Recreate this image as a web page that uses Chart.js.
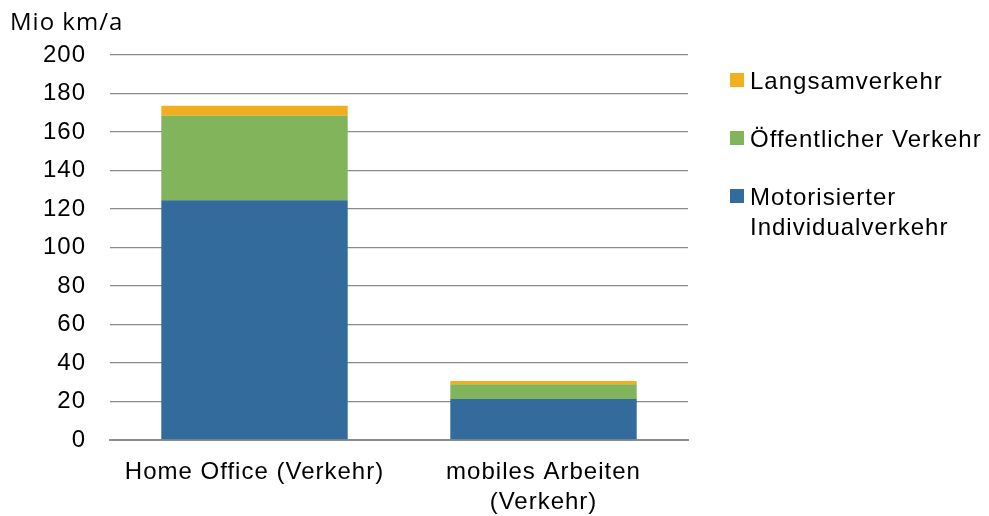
<!DOCTYPE html>
<html lang="de">
<head>
    <meta charset="UTF-8">
    <title>Verkehr Home Office</title>
    <script src="https://cdn.jsdelivr.net/npm/chart.js"></script>
    <style>
        body { margin: 0; background: #fff; }
        #wrap { position: relative; width: 989px; height: 516px; }
        #unit {
            position: absolute; left: 10px; top: 4px; letter-spacing: 1px;
            font-family: "Open Sans", sans-serif; font-size: 24px; color: #000;
        }
        #legend {
            position: absolute; left: 730px; top: 66px; letter-spacing: 1px; white-space: nowrap;
            font-family: "Liberation Sans", Arial, sans-serif; font-size: 24px; color: #000;
        }
        .item { position: relative; padding-left: 20px; line-height: 30px; margin-bottom: 28px; }
        .box { position: absolute; left: 0; top: 7px; width: 14px; height: 14px; }
    </style>
</head>
<body>
<div id="wrap">
    <canvas id="chart" width="989" height="516"></canvas>
    <div id="unit">Mio km/a</div>
    <div id="legend"></div>
</div>
<script>
    const categories = ['Home Office (Verkehr)', ['mobiles Arbeiten', '(Verkehr)']];
    const seriesNames = ['Motorisierter Individualverkehr', 'Öffentlicher Verkehr', 'Langsamverkehr'];
    const legendLines = [['Motorisierter', 'Individualverkehr'], ['Öffentlicher Verkehr'], ['Langsamverkehr']];
    const seriesColors = ['#336b9c', '#82b45c', '#f1ae1f'];
    const motorisiert = [124.5, 21.3];
    const oeffentlich = [44, 7.6];
    const langsam = [5.2, 1.7];
    const yTicks = [0, 20, 40, 60, 80, 100, 120, 140, 160, 180, 200];

    const values = [motorisiert, oeffentlich, langsam];
    const datasets = seriesNames.map((name, i) => ({
        label: name,
        data: values[i],
        backgroundColor: seriesColors[i],
        borderWidth: 0,
        categoryPercentage: 1,
        barPercentage: 0.645
    }));

    const tickFont = { family: '"Liberation Sans", Arial, sans-serif', size: 24, lineHeight: 1.25 };

    // the original text is a bit wider than Arial, so spread the letters a little
    const spacing = {
        id: 'spacing',
        beforeUpdate: (chart) => { chart.ctx.letterSpacing = '1px'; },
        beforeDraw: (chart) => { chart.ctx.letterSpacing = '1px'; }
    };

    new Chart(document.getElementById('chart'), {
        type: 'bar',
        data: { labels: categories, datasets: datasets },
        plugins: [spacing],
        options: {
            responsive: false,
            animation: false,
            layout: { padding: { left: 0, right: 301, top: 55, bottom: 0 } },
            plugins: { legend: { display: false }, tooltip: { enabled: false } },
            scales: {
                x: {
                    stacked: true,
                    grid: { display: false, drawTicks: false },
                    border: { color: '#8c8c8c', width: 2 },
                    ticks: { color: '#000', font: tickFont, padding: 17, maxRotation: 0 },
                    afterFit: (s) => { s.height = 76; }
                },
                y: {
                    stacked: true,
                    min: 0,
                    max: 200,
                    afterBuildTicks: (s) => { s.ticks = yTicks.map(v => ({ value: v })); },
                    grid: { color: '#8c8c8c', lineWidth: 1.3, drawTicks: false },
                    border: { display: false },
                    ticks: { color: '#000', font: tickFont, padding: 24 },
                    afterFit: (s) => { s.width = 110; }
                }
            }
        }
    });

    const legend = document.getElementById('legend');
    [2, 1, 0].forEach(i => {
        const item = document.createElement('div');
        item.className = 'item';
        item.innerHTML = '<span class="box" style="background:' + seriesColors[i] + '"></span>' +
            legendLines[i].join('<br>');
        legend.appendChild(item);
    });
</script>
</body>
</html>
